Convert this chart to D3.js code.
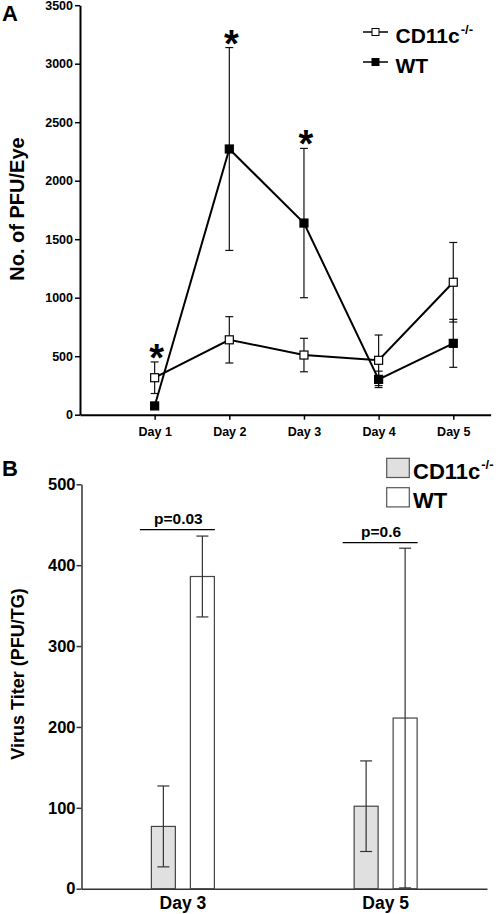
<!DOCTYPE html>
<html><head><meta charset="utf-8">
<script src="https://cdn.jsdelivr.net/npm/d3@7/dist/d3.min.js"></script>
<style>
body{margin:0;background:#fff}
text{font-family:"Liberation Sans",Arial,Helvetica,sans-serif;font-weight:bold;fill:#000}
</style>
</head><body>
<svg id="c" width="500" height="914"></svg>
<script>
// ---------- Panel A data ----------
const days = ["Day 1","Day 2","Day 3","Day 4","Day 5"];
const cd11cPfu    = [316, 640, 510, 465, 1132];
const cd11cPfuErr = [135, 198, 143, 216, 340];
const wtPfu       = [75, 2271, 1638, 302, 610];
const wtPfuErr    = [25, 867, 638, 70, 205];
const starDays    = ["Day 1","Day 2","Day 3"];
const pfuTicks    = [0, 500, 1000, 1500, 2000, 2500, 3000, 3500];

// ---------- Panel B data ----------
const titerDays     = ["Day 3","Day 5"];
const series        = ["CD11c","WT"];
const cd11cTiter    = [77, 102];
const cd11cTiterErr = [50, 56];
const wtTiter       = [386, 211];
const wtTiterErr    = [50, 210];
const pValues       = ["p=0.03","p=0.6"];
const pBracket      = [444, 428];
const titerTicks    = [0, 100, 200, 300, 400, 500];

const svg = d3.select("#c");

// ================= Panel A =================
const gA = svg.append("g");
const xA = d3.scaleLinear().domain([0, 5.5]).range([80, 490.6]);
const yA = d3.scaleLinear().domain([0, 3500]).range([414.7, 5.2]);
const dayX = d => xA(days.indexOf(d) + 1);

const axA = gA.append("g").attr("transform","translate(0,414.7)")
  .call(d3.axisBottom(xA).tickValues([1,2,3,4,5]).tickFormat(i => days[i-1]).tickSize(5).tickSizeOuter(0).tickPadding(4));
const ayA = gA.append("g").attr("transform","translate(80,0)")
  .call(d3.axisLeft(yA).tickValues(pfuTicks).tickFormat(d3.format("d")).tickSize(5).tickSizeOuter(0).tickPadding(2));
[axA, ayA].forEach(a => {
  a.select(".domain").attr("stroke","#000").attr("stroke-width",2);
  a.selectAll(".tick line").attr("stroke","#000").attr("stroke-width",1.5);
  a.selectAll("text").style("font-size","12.5px").attr("fill","#000");
});
axA.selectAll("text").attr("dy","0.95em");

gA.append("text").attr("x",2).attr("y",21).style("font-size","22px").text("A");
gA.append("text").attr("transform","translate(24,209) rotate(-90)")
  .attr("text-anchor","middle").style("font-size","20px").text("No. of PFU/Eye");

const seriesA = [
  {mean: cd11cPfu, err: cd11cPfuErr, fill: "#fff"},
  {mean: wtPfu, err: wtPfuErr, fill: "#000"}
];
// error bars
seriesA.forEach(s => {
  days.forEach((d, i) => {
    const x = dayX(d), y1 = yA(s.mean[i] + s.err[i]), y0 = yA(Math.max(0, s.mean[i] - s.err[i]));
    gA.append("line").attr("x1",x).attr("x2",x).attr("y1",y1).attr("y2",y0).attr("stroke","#111").attr("stroke-width",1.2);
    [y1, y0].forEach(yy => gA.append("line").attr("x1",x-4).attr("x2",x+4).attr("y1",yy).attr("y2",yy).attr("stroke","#111").attr("stroke-width",1.2));
  });
});
// lines
const lineA = d3.line().x((v, i) => dayX(days[i])).y(v => yA(v));
seriesA.forEach(s => {
  gA.append("path").attr("d", lineA(s.mean)).attr("fill","none").attr("stroke","#000").attr("stroke-width",2);
});
// markers
seriesA.forEach(s => {
  days.forEach((d, i) => {
    gA.append("rect").attr("x", dayX(d) - 4).attr("y", yA(s.mean[i]) - 4).attr("width",8).attr("height",8)
      .attr("fill", s.fill).attr("stroke","#000").attr("stroke-width",1.2);
  });
});
// asterisks
starDays.forEach(d => {
  const i = days.indexOf(d);
  const top = Math.max(cd11cPfu[i] + cd11cPfuErr[i], wtPfu[i] + wtPfuErr[i]);
  gA.append("text").attr("x", dayX(d) + 2).attr("y", yA(top) + 9)
    .attr("text-anchor","middle").style("font-size","38px").text("*");
});
// legend A
const legA = [{label:"CD11c", sup:"-/-", fill:"#fff", y:32}, {label:"WT", sup:"", fill:"#000", y:62}];
legA.forEach(l => {
  gA.append("line").attr("x1",363).attr("x2",388).attr("y1",l.y).attr("y2",l.y).attr("stroke","#000").attr("stroke-width",1.5);
  gA.append("rect").attr("x",372).attr("y",l.y-3.5).attr("width",7).attr("height",7).attr("fill",l.fill).attr("stroke","#000").attr("stroke-width",1);
  const t = gA.append("text").attr("x",395.5).attr("y",l.y + 10.5).style("font-size","21px").text(l.label);
  if (l.sup) t.append("tspan").attr("dy",-9).attr("dx",1).style("font-size","13px").text(l.sup);
});

// ================= Panel B =================
const gB = svg.append("g");
const x0 = d3.scaleBand().domain(titerDays).range([81.5, 487]).padding(0);
const x1 = d3.scaleBand().domain(series).range([-31.5, 31.5]).paddingInner(0.385);
const yB = d3.scaleLinear().domain([0, 500]).range([888.7, 484.3]);
const cx = d => x0(d) + x0.bandwidth() / 2;

const ayB = gB.append("g").attr("transform","translate(81.5,0)")
  .call(d3.axisLeft(yB).tickValues(titerTicks).tickFormat(d3.format("d")).tickSize(5).tickSizeOuter(0).tickPadding(1));
const axB = gB.append("g").attr("transform","translate(0,888.7)")
  .call(d3.axisBottom(x0).tickSize(0).tickSizeOuter(0).tickPadding(8));
[axB, ayB].forEach(a => {
  a.select(".domain").attr("stroke","#333").attr("stroke-width",1.5);
  a.selectAll(".tick line").attr("stroke","#333").attr("stroke-width",1.5);
  a.selectAll("text").attr("fill","#000");
});
ayB.selectAll("text").style("font-size","16.5px");
axB.selectAll("text").style("font-size","17.5px").attr("dy","0.72em");

gB.append("text").attr("x",2).attr("y",476).style("font-size","22px").text("B");
gB.append("text").attr("transform","translate(23.5,674) rotate(-90)")
  .attr("text-anchor","middle").style("font-size","18px").text("Virus Titer (PFU/TG)");

const seriesB = [
  {key:"CD11c", mean: cd11cTiter, err: cd11cTiterErr, fill:"#e0e0e0"},
  {key:"WT", mean: wtTiter, err: wtTiterErr, fill:"#fff"}
];
seriesB.forEach(s => {
  titerDays.forEach((d, i) => {
    const bx = cx(d) + x1(s.key), bw = x1.bandwidth();
    gB.append("rect").attr("x",bx).attr("y",yB(s.mean[i])).attr("width",bw).attr("height",yB(0)-yB(s.mean[i]))
      .attr("fill",s.fill).attr("stroke","#444").attr("stroke-width",1.2);
  });
});
seriesB.forEach(s => {
  titerDays.forEach((d, i) => {
    const x = cx(d) + x1(s.key) + x1.bandwidth()/2;
    const y1 = yB(s.mean[i] + s.err[i]), y0 = yB(Math.max(0, s.mean[i] - s.err[i]));
    gB.append("line").attr("x1",x).attr("x2",x).attr("y1",y1).attr("y2",y0).attr("stroke","#333").attr("stroke-width",1.2);
    [y1, y0].forEach(yy => gB.append("line").attr("x1",x-6).attr("x2",x+6).attr("y1",yy).attr("y2",yy).attr("stroke","#333").attr("stroke-width",1.2));
  });
});
// p-value brackets
titerDays.forEach((d, i) => {
  const c = cx(d), yy = yB(pBracket[i]);
  gB.append("line").attr("x1",c-43).attr("x2",c+32).attr("y1",yy).attr("y2",yy).attr("stroke","#000").attr("stroke-width",1.2);
  gB.append("text").attr("x",c-4.5).attr("y",yy-5.5).attr("text-anchor","middle").style("font-size","15.5px").text(pValues[i]);
});
// legend B
const legB = [{label:"CD11c", sup:"-/-", fill:"#e0e0e0", y:458.3}, {label:"WT", sup:"", fill:"#fff", y:487.7}];
legB.forEach(l => {
  gB.append("rect").attr("x",386.7).attr("y",l.y).attr("width",22.6).attr("height",19.2)
    .attr("fill",l.fill).attr("stroke","#555").attr("stroke-width",1.2);
  const t = gB.append("text").attr("x",413).attr("y",l.y + 20.5).style("font-size","22px").text(l.label);
  if (l.sup) t.append("tspan").attr("dy",-10).attr("dx",1).style("font-size","13px").text(l.sup);
});
</script>
</body></html>
